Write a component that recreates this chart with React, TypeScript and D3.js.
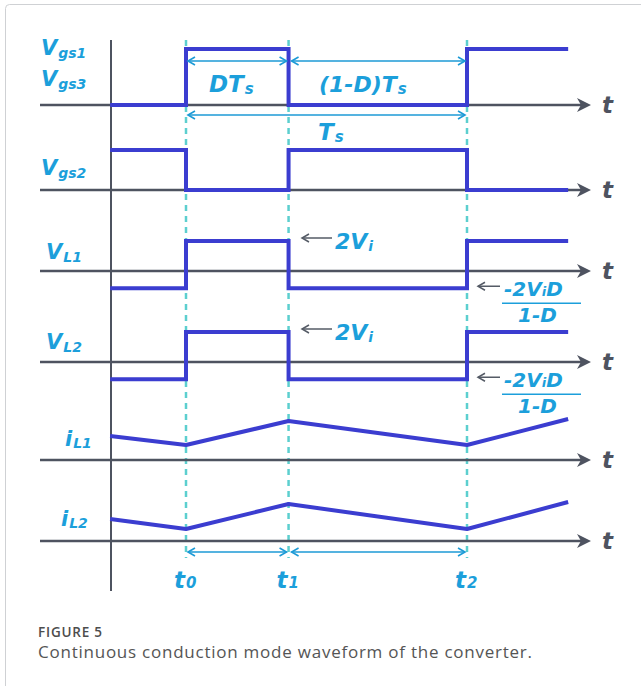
import React from "react";
import * as d3 from "d3";

// Duty ratio and switching instants (in units of Ts, t0 = 0, t2 = Ts)
const D = 0.365;
const edgeTimes = [-0.27, 0, D, 1, 1.36]; // start, t0, t1, t2, end
const markTimes = [0, D, 1];
const markLabels = ["0", "1", "2"];

// Gate drive levels (0 = off, 1 = on) for each interval
const vgs13Levels = [0, 1, 0, 1, 1];
const vgs2Levels = [1, 0, 1, 0, 0];

// Inductor voltages in units of Vi: +2Vi while on, -2ViD/(1-D) while off
const vOff = (-2 * D) / (1 - D);
const vL1Levels = [vOff, 2, vOff, 2, 2];
const vL2Levels = [vOff, 2, vOff, 2, 2];

// Inductor currents at start, t0, t1, t2, end
const iL1Values = [2.4, 1.5, 3.9, 1.5, 4.1];
const iL2Values = [2.2, 1.2, 3.7, 1.2, 3.9];

const WAVE = "#3b3dd0";
const LABEL = "#1c9fdb";
const AXIS = "#4e5360";
const DASH = "#5ccfcf";
const ANNOT = "#1c9ad6";

const FONT = "'DejaVu Sans', 'Open Sans', sans-serif";
const CAPTION_FONT = "'Open Sans', 'DejaVu Sans', sans-serif";

const x = d3.scaleLinear().domain([0, 1]).range([186, 467]);

type Panel = { base: number; unit: number };
const panelY = (p: Panel) => (v: number) => p.base - v * p.unit;

const pGs13: Panel = { base: 105, unit: 56 };
const pGs2: Panel = { base: 190, unit: 40 };
const pVL1: Panel = { base: 271, unit: 15 };
const pVL2: Panel = { base: 362, unit: 15 };
const pIL1: Panel = { base: 460, unit: 10 };
const pIL2: Panel = { base: 541, unit: 10 };

function stepPath(levels: number[], p: Panel) {
  const y = panelY(p);
  const line = d3
    .line<number>()
    .x((_, i) => x(edgeTimes[i]))
    .y((v) => y(v))
    .curve(d3.curveStepAfter);
  return line(levels) || "";
}

function rampPath(values: number[], p: Panel) {
  const y = panelY(p);
  const line = d3
    .line<number>()
    .x((_, i) => x(edgeTimes[i]))
    .y((v) => y(v));
  return line(values) || "";
}

function Sym({
  x: tx,
  y: ty,
  main,
  sub,
  size,
  subSize,
  color = LABEL,
  subDy = 3,
}: {
  x: number;
  y: number;
  main: string;
  sub?: string;
  size: number;
  subSize?: number;
  color?: string;
  subDy?: number;
}) {
  return (
    <text
      x={tx}
      y={ty}
      fill={color}
      fontFamily={FONT}
      fontWeight={700}
      fontStyle="italic"
      fontSize={size}
    >
      {main}
      {sub ? (
        <tspan fontSize={subSize ?? size * 0.62} dy={subDy} dx={1}>
          {sub}
        </tspan>
      ) : null}
    </text>
  );
}

function TimeAxis({ y }: { y: number }) {
  const tip = 591;
  return (
    <g>
      <line x1={40} x2={tip - 6} y1={y} y2={y} stroke={AXIS} strokeWidth={2.5} />
      <path
        d={`M${tip},${y} L${tip - 14},${y - 7} L${tip - 10},${y} L${tip - 14},${y + 7} Z`}
        fill={AXIS}
      />
      <text
        x={602}
        y={y + 8}
        fill={AXIS}
        fontFamily={FONT}
        fontWeight={700}
        fontStyle="italic"
        fontSize={23}
      >
        t
      </text>
    </g>
  );
}

function DoubleArrow({ x1, x2, y }: { x1: number; x2: number; y: number }) {
  const h = 7;
  const w = 4;
  return (
    <g stroke={ANNOT} strokeWidth={1.6} fill="none">
      <line x1={x1} x2={x2} y1={y} y2={y} />
      <path d={`M${x1 + h},${y - w} L${x1},${y} L${x1 + h},${y + w}`} />
      <path d={`M${x2 - h},${y - w} L${x2},${y} L${x2 - h},${y + w}`} />
    </g>
  );
}

function Pointer({ x1, x2, y }: { x1: number; x2: number; y: number }) {
  // left-pointing arrow from x2 to x1
  return (
    <g stroke="#555b66" strokeWidth={1.5} fill="none">
      <line x1={x1} x2={x2} y1={y} y2={y} />
      <path d={`M${x1 + 7},${y - 4} L${x1},${y} L${x1 + 7},${y + 4}`} />
    </g>
  );
}

function OffLabel({ y }: { y: number }) {
  // "-2ViD / (1-D)" annotation anchored on the off-state level
  return (
    <g>
      <Pointer x1={478} x2={500} y={y} />
      <text
        x={504}
        y={y + 10}
        fill={LABEL}
        fontFamily={FONT}
        fontWeight={700}
        fontStyle="italic"
        fontSize={20}
      >
        -2V
        <tspan fontSize={13}>i</tspan>
        D
      </text>
      <line x1={502} x2={581} y1={y + 17} y2={y + 17} stroke={LABEL} strokeWidth={1.6} />
      <text
        x={518}
        y={y + 36}
        fill={LABEL}
        fontFamily={FONT}
        fontWeight={700}
        fontStyle="italic"
        fontSize={20}
      >
        1-D
      </text>
    </g>
  );
}

export default function App() {
  const yVL1 = panelY(pVL1);
  const yVL2 = panelY(pVL2);
  return (
    <svg
      width={641}
      height={686}
      style={{ position: "absolute", left: 0, top: 0, background: "#fff" }}
    >
      <rect x={5.5} y={4.5} width={700} height={720} rx={4} fill="#fff" stroke="#cfd1d4" strokeWidth={1} />

      {/* switching instants */}
      {markTimes.map((t, i) => (
        <line
          key={i}
          x1={x(t)}
          x2={x(t)}
          y1={40}
          y2={558}
          stroke={DASH}
          strokeWidth={2.5}
          strokeDasharray="6,5"
        />
      ))}

      {/* vertical axis */}
      <line x1={111} x2={111} y1={40} y2={591} stroke={AXIS} strokeWidth={2} />

      {[pGs13, pGs2, pVL1, pVL2, pIL1, pIL2].map((p, i) => (
        <TimeAxis key={i} y={p.base} />
      ))}

      {/* waveforms */}
      <g fill="none" stroke={WAVE} strokeWidth={4} strokeLinejoin="miter">
        <path d={stepPath(vgs13Levels, pGs13)} />
        <path d={stepPath(vgs2Levels, pGs2)} />
        <path d={stepPath(vL1Levels, pVL1)} />
        <path d={stepPath(vL2Levels, pVL2)} />
        <path d={rampPath(iL1Values, pIL1)} strokeLinejoin="round" />
        <path d={rampPath(iL2Values, pIL2)} strokeLinejoin="round" />
      </g>

      {/* period annotations */}
      <DoubleArrow x1={x(0) + 2} x2={x(D) - 2} y={61} />
      <DoubleArrow x1={x(D) + 3} x2={x(1) - 2} y={61} />
      <DoubleArrow x1={x(0) + 2} x2={x(1) - 2} y={115} />
      <Sym x={209} y={92} main="DT" sub="s" size={23} subSize={15} subDy={2} />
      <Sym x={319} y={92} main="(1-D)T" sub="s" size={22} subSize={15} subDy={2} />
      <Sym x={318} y={140} main="T" sub="s" size={23} subSize={15} subDy={2} />

      <DoubleArrow x1={x(0) + 2} x2={x(D) - 2} y={552} />
      <DoubleArrow x1={x(D) + 3} x2={x(1) - 2} y={552} />
      {markTimes.map((t, i) => (
        <Sym
          key={i}
          x={x(t) - 12}
          y={588}
          main="t"
          sub={markLabels[i]}
          size={23}
          subSize={15}
          subDy={0}
        />
      ))}

      {/* signal names */}
      <Sym x={41} y={55} main="V" sub="gs1" size={21} subSize={14} subDy={3} />
      <Sym x={41} y={86} main="V" sub="gs3" size={21} subSize={14} subDy={3} />
      <Sym x={41} y={175} main="V" sub="gs2" size={21} subSize={14} subDy={3} />
      <Sym x={46} y={259} main="V" sub="L1" size={21} subSize={14} subDy={3} />
      <Sym x={46} y={349} main="V" sub="L2" size={21} subSize={14} subDy={3} />
      <Sym x={65} y={446} main="i" sub="L1" size={21} subSize={14} subDy={2} />
      <Sym x={61} y={526} main="i" sub="L2" size={21} subSize={14} subDy={2} />

      {/* level annotations */}
      <Pointer x1={302} x2={332} y={yVL1(2) - 3} />
      <Sym x={335} y={yVL1(2) + 8} main="2V" sub="i" size={22} subSize={14} subDy={2} />
      <Pointer x1={302} x2={332} y={yVL2(2) - 3} />
      <Sym x={335} y={yVL2(2) + 8} main="2V" sub="i" size={22} subSize={14} subDy={2} />
      <OffLabel y={yVL1(vOff) - 2} />
      <OffLabel y={yVL2(vOff) - 2} />

      {/* caption */}
      <text x={38} y={637} fill="#4d4d4d" fontFamily={CAPTION_FONT} fontSize={13.5} fontWeight={600} textLength={64} lengthAdjust="spacing">
        FIGURE 5
      </text>
      <text x={38} y={658} fill="#555" fontFamily={CAPTION_FONT} fontSize={17} textLength={494} lengthAdjust="spacing">
        Continuous conduction mode waveform of the converter.
      </text>
    </svg>
  );
}
